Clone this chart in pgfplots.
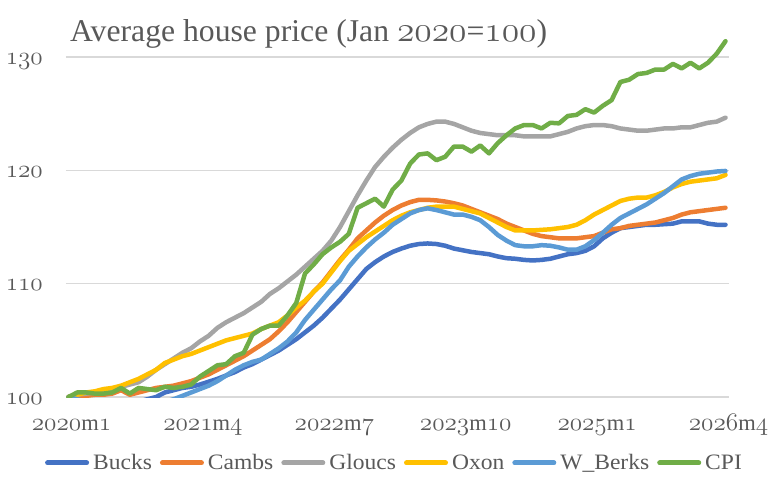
\documentclass[border=0pt]{standalone}
\usepackage{fix-cm}
\usepackage{fontspec}
\setmainfont{Liberation Serif}
\newfontfamily\legfont{Liberation Serif}[FakeStretch=1.07]
\usepackage{pgfplots}
\usepackage{pgfplotstable}
\pgfplotsset{compat=1.18}

% old-style figures taken from the Computer Modern math italic font
% (scalable through fix-cm), set a little larger than the surrounding text
\makeatletter
\newcommand\osf[1]{{\fontencoding{OML}\fontfamily{cmm}\fontseries{m}\fontshape{it}%
  \fontsize{\strip@pt\dimexpr1.12\dimexpr\f@size pt\relax\relax}{\f@baselineskip}\selectfont #1}}
\makeatother

\definecolor{txtgray}{HTML}{595959}
\definecolor{gridgray}{HTML}{D9D9D9}
\definecolor{cBucks}{HTML}{4472C4}
\definecolor{cCambs}{HTML}{ED7D31}
\definecolor{cGloucs}{HTML}{A5A5A5}
\definecolor{cOxon}{HTML}{FFC000}
\definecolor{cWBerks}{HTML}{5B9BD5}
\definecolor{cCPI}{HTML}{70AD47}

% monthly index, Jan 2020 = 100 (m = months since 2020m1)
\pgfplotstableread{
m  B      C      G      O      W      P
0  100.0  100.0  100.0  100.0  100.0  100.0
1  99.7   100.1  100.2  100.2  99.8   100.4
2  99.5   100.1  100.3  100.4  99.6   100.4
3  99.3   100.2  100.4  100.5  99.4   100.3
4  99.2   100.2  100.5  100.7  99.2   100.3
5  99.2   100.3  100.7  100.8  99.0   100.4
6  99.3   100.6  100.9  101.0  98.9   100.8
7  99.5   100.2  101.1  101.3  98.9   100.3
8  99.6   100.4  101.3  101.6  99.0   100.8
9  99.8   100.6  101.8  102.0  99.2   100.7
10 100.0  100.8  102.4  102.4  99.4   100.6
11 100.4  100.9  102.9  103.0  99.6   100.9
12 100.6  101.0  103.4  103.3  99.8   100.8
13 100.8  101.2  103.9  103.6  100.1  100.9
14 100.9  101.4  104.3  103.8  100.4  101.1
15 101.1  101.7  104.9  104.1  100.7  101.8
16 101.35 102.0  105.4  104.4  101.0  102.3
17 101.6  102.4  106.1  104.7  101.4  102.8
18 101.9  102.8  106.6  105.0  101.9  102.9
19 102.2  103.2  107.0  105.2  102.4  103.6
20 102.6  103.6  107.4  105.4  102.8  103.9
21 102.9  104.1  107.9  105.6  103.1  105.5
22 103.3  104.6  108.4  106.0  103.3  106.0
23 103.7  105.1  109.1  106.3  103.8  106.3
24 104.1  105.8  109.6  106.6  104.3  106.3
25 104.6  106.6  110.2  107.2  104.9  107.2
26 105.1  107.5  110.8  107.9  105.7  108.3
27 105.7  108.4  111.5  108.5  106.8  110.9
28 106.3  109.3  112.2  109.3  107.7  111.7
29 107.0  110.1  112.9  110.0  108.6  112.6
30 107.8  111.1  113.8  111.0  109.5  113.2
31 108.6  112.1  115.0  112.0  110.3  113.7
32 109.5  113.0  116.4  112.9  111.5  114.4
33 110.4  114.0  117.8  113.5  112.4  116.7
34 111.3  114.7  119.1  114.1  113.2  117.1
35 111.9  115.4  120.3  114.6  113.9  117.5
36 112.4  116.0  121.2  115.1  114.5  116.8
37 112.8  116.5  122.0  115.6  115.2  118.3
38 113.1  116.9  122.7  116.0  115.7  119.1
39 113.35 117.2  123.3  116.3  116.2  120.6
40 113.5  117.4  123.8  116.5  116.5  121.4
41 113.55 117.4  124.1  116.7  116.65 121.5
42 113.5  117.35 124.3  116.8  116.5  120.9
43 113.35 117.25 124.3  116.8  116.3  121.2
44 113.1  117.1  124.1  116.8  116.1  122.1
45 112.95 116.9  123.8  116.6  116.1  122.1
46 112.8  116.6  123.5  116.4  115.9  121.65
47 112.7  116.3  123.3  116.2  115.6  122.2
48 112.6  116.0  123.2  115.8  115.0  121.5
49 112.4  115.7  123.1  115.4  114.3  122.4
50 112.25 115.3  123.1  115.0  113.8  123.1
51 112.2  115.0  123.1  114.7  113.4  123.7
52 112.1  114.7  123.0  114.7  113.3  124.0
53 112.05 114.4  123.0  114.7  113.3  124.0
54 112.1  114.2  123.0  114.75 113.4  123.7
55 112.2  114.1  123.0  114.8  113.35 124.2
56 112.4  114.0  123.2  114.9  113.2  124.15
57 112.6  114.0  123.4  115.0  113.0  124.8
58 112.7  114.0  123.7  115.2  113.0  124.9
59 112.9  114.1  123.9  115.6  113.3  125.4
60 113.3  114.2  124.0  116.1  113.85 125.1
61 114.0  114.5  124.0  116.5  114.5  125.7
62 114.5  114.8  123.9  116.9  115.2  126.2
63 114.9  114.9  123.7  117.3  115.8  127.8
64 115.0  115.1  123.6  117.5  116.2  128.0
65 115.1  115.2  123.5  117.6  116.6  128.5
66 115.2  115.3  123.5  117.6  117.0  128.6
67 115.2  115.4  123.6  117.8  117.5  128.9
68 115.25 115.6  123.7  118.1  118.0  128.9
69 115.3  115.8  123.7  118.5  118.6  129.4
70 115.5  116.1  123.8  118.8  119.2  129.0
71 115.5  116.3  123.8  119.0  119.5  129.5
72 115.5  116.4  124.0  119.1  119.7  129.0
73 115.3  116.5  124.2  119.2  119.8  129.5
74 115.2  116.6  124.3  119.3  119.9  130.3
75 115.2  116.7  124.65 119.6  119.95 131.4
}\prices

\begin{document}
\begin{tikzpicture}
\begin{axis}[
  at={(0pt,0pt)}, anchor=south west,
  scale only axis,
  width=663pt, height=362.6pt,
  xmin=-0.285, xmax=75.4,
  ymin=100, ymax=132,
  axis line style={draw=none},
  major tick style={draw=none},
  ymajorgrids,
  grid style={gridgray, line width=1.5pt},
  ytick={100,110,120,130},
  yticklabels={\osf{100},\osf{110},\osf{120},\osf{130}},
  xtick={0,15,30,45,60,75},
  xticklabels={\osf{2020}m\osf{1},\osf{2021}m\osf{4},\osf{2022}m\osf{7},\osf{2023}m\osf{10},\osf{2025}m\osf{1},\osf{2026}m\osf{4}},
  tick label style={font=\fontsize{22.5}{26}\selectfont, text=txtgray, inner sep=0pt},
  xticklabel style={anchor=base, xshift=3pt, yshift=-33pt},
  yticklabel style={anchor=base east, xshift=-23pt, yshift=-7pt},
  every axis plot/.append style={line width=4.5pt, line join=round, line cap=round},
  legend columns=6,
  legend image code/.code={\draw[line width=5pt, line cap=round] (0pt,0pt) -- (39pt,0pt);},
  legend style={
    at={(axis description cs:0.4947,-0.182)}, anchor=center,
    draw=none, fill=none, inner sep=0pt,
    font=\legfont\fontsize{22}{26}\selectfont,
    text=txtgray,
    nodes={inner xsep=1pt, inner ysep=1pt},
    column sep=3pt,
    /tikz/every even column/.append style={column sep=7pt},
  },
]
\addplot[cBucks]  table[x=m, y=B] {\prices};
\addlegendentry{Bucks}
\addplot[cCambs]  table[x=m, y=C] {\prices};
\addlegendentry{Cambs}
\addplot[cGloucs] table[x=m, y=G] {\prices};
\addlegendentry{Gloucs}
\addplot[cOxon]   table[x=m, y=O] {\prices};
\addlegendentry{Oxon}
\addplot[cWBerks] table[x=m, y=W] {\prices};
\addlegendentry{W\_Berks}
\addplot[cCPI]    table[x=m, y=P] {\prices};
\addlegendentry{CPI}
\end{axis}
\node[anchor=base west, inner sep=0pt, text=txtgray,
      font=\fontsize{31.7}{36}\selectfont] at (4pt,355pt)
  {Average house price (Jan \osf{2020}=\osf{100})};
\path[use as bounding box] (-66pt,-98pt) rectangle (712pt,397pt);
\end{tikzpicture}
\end{document}
